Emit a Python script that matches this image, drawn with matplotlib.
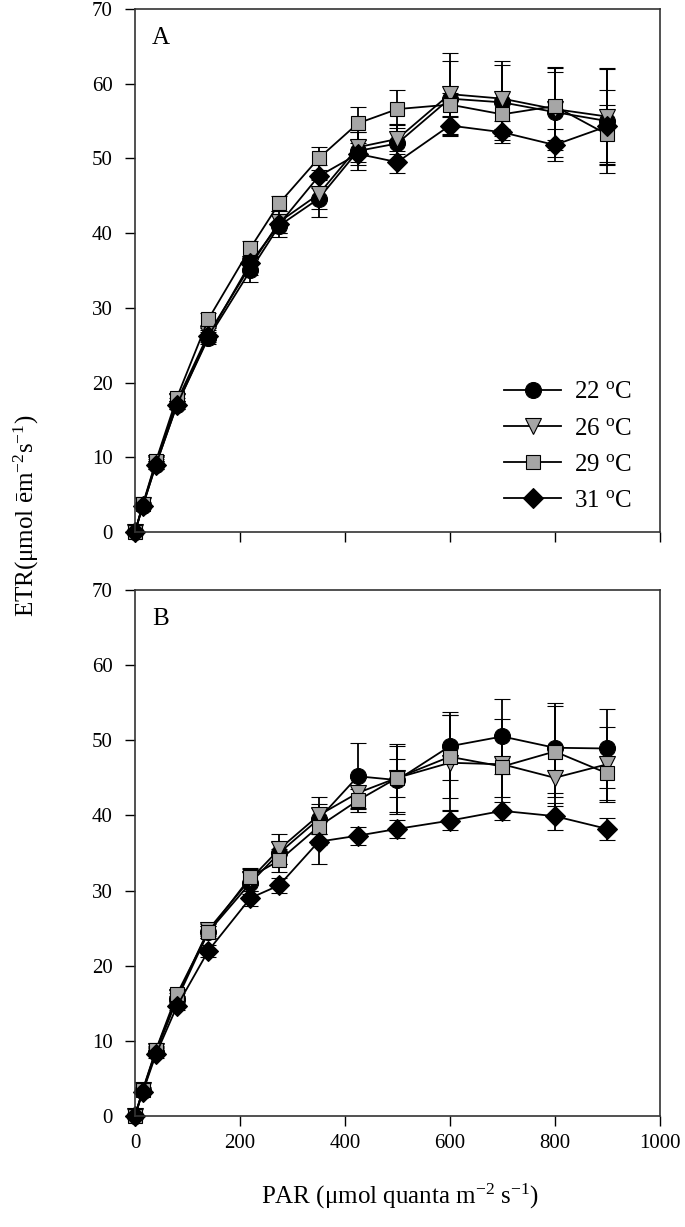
import matplotlib
matplotlib.use('Agg')
from matplotlib import pyplot as plt

#------------------------------------------------------------------
# Data.
#
par = [0, 15, 40, 80, 140, 220, 275, 350, 425, 500, 600, 700, 800, 900]
temps = ['22', '26', '29', '31']

# Panel A
a_22 = [0, 3.5, 9.0, 17.0, 26.0, 35.0, 41.0, 44.6, 51.0, 52.0, 58.0, 57.5, 56.2, 55.0]
a_26 = [0, 3.6, 9.3, 17.5, 26.5, 35.6, 41.5, 45.2, 51.5, 52.6, 58.6, 58.0, 56.6, 55.6]
a_29 = [0, 3.7, 9.5, 18.0, 28.5, 38.0, 44.0, 50.0, 54.7, 56.6, 57.2, 55.9, 57.0, 53.2]
a_31 = [0, 3.5, 9.0, 17.0, 26.2, 36.0, 41.2, 47.6, 50.6, 49.5, 54.4, 53.5, 51.8, 54.3]
a_22_err = [0, 0.3, 0.5, 0.5, 0.8, 1.5, 1.5, 2.5, 2.5, 2.5, 5.0, 5.0, 6.0, 7.0]
a_26_err = [0, 0.3, 0.5, 0.5, 0.8, 1.2, 1.5, 2.0, 2.0, 2.0, 5.5, 5.0, 5.5, 6.5]
a_29_err = [0, 0.3, 0.5, 0.5, 0.8, 1.0, 1.0, 1.5, 2.2, 2.5, 1.5, 2.0, 4.5, 4.0]
a_31_err = [0, 0.3, 0.5, 0.5, 0.8, 1.0, 1.2, 1.5, 1.5, 1.5, 1.2, 1.5, 2.2, 4.8]

# Panel B
b_22 = [0, 3.3, 8.5, 15.5, 24.5, 31.0, 35.0, 39.5, 45.2, 44.7, 49.2, 50.5, 49.0, 48.9]
b_26 = [0, 3.4, 8.7, 15.8, 24.8, 31.5, 35.5, 40.0, 43.0, 45.0, 47.0, 46.8, 45.0, 46.8]
b_29 = [0, 3.5, 8.8, 16.2, 24.5, 31.8, 34.0, 38.5, 42.0, 45.0, 47.8, 46.5, 48.5, 45.6]
b_31 = [0, 3.2, 8.2, 14.6, 22.0, 29.0, 30.7, 36.5, 37.3, 38.2, 39.3, 40.6, 39.9, 38.2]
b_22_err = [0, 0.3, 0.5, 0.5, 0.8, 1.5, 1.5, 2.0, 4.4, 4.5, 4.5, 5.0, 6.0, 5.2]
b_26_err = [0, 0.3, 0.5, 0.5, 0.8, 1.5, 2.0, 2.5, 2.0, 2.5, 6.3, 6.0, 3.8, 5.0]
b_29_err = [0, 0.3, 0.5, 0.5, 0.8, 1.0, 1.5, 2.5, 1.5, 4.5, 5.5, 4.0, 6.0, 3.5]
b_31_err = [0, 0.3, 0.5, 0.5, 0.8, 1.0, 1.0, 3.0, 1.2, 1.2, 1.3, 1.2, 1.8, 1.5]

#------------------------------------------------------------------
# Style.
#
plt.rcParams['font.family'] = ['Liberation Serif', 'DejaVu Serif']
plt.rcParams['mathtext.fontset'] = 'custom'
plt.rcParams['mathtext.rm'] = 'Liberation Serif'
plt.rcParams['mathtext.it'] = 'Liberation Serif:italic'

grey = '#a6a6a6'
styles = [
    dict(marker='o', mfc='black', ms=11.5),
    dict(marker='v', mfc=grey, ms=11.5),
    dict(marker='s', mfc=grey, ms=10),
    dict(marker='D', mfc='black', ms=10),
]

fig = plt.figure(figsize=(6.85, 12.27), dpi=100)
ax_a = fig.add_axes([0.197, 0.5664, 0.766, 0.4263])
ax_b = fig.add_axes([0.197, 0.0905, 0.766, 0.4287])

def draw_panel(ax, series, errs, letter, show_xlabels):
    handles = []
    for vals, err, st in zip(series, errs, styles):
        h = ax.errorbar(par, vals, yerr=err, color='black', lw=1.3,
                        elinewidth=1.3, capsize=6, capthick=1.3,
                        mec='black', mew=0.8, clip_on=False, **st)
        handles.append(h)
    ax.set_xlim(0, 1000)
    ax.set_ylim(0, 70)
    ax.set_xticks(range(0, 1001, 200))
    ax.set_yticks(range(0, 71, 10))
    ax.tick_params(direction='out', length=7, width=1, labelsize=15,
                   top=False, right=False)
    ax.tick_params(axis='y', pad=9)
    ax.tick_params(axis='x', pad=6)
    if not show_xlabels:
        ax.set_xticklabels([])
    for sp in ax.spines.values():
        sp.set_linewidth(1.2)
        sp.set_color('#333333')
    ax.text(0.032, 0.965, letter, transform=ax.transAxes, fontsize=18,
            va='top', ha='left')
    return handles

handles = draw_panel(ax_a, [a_22, a_26, a_29, a_31],
                     [a_22_err, a_26_err, a_29_err, a_31_err], 'A', False)
draw_panel(ax_b, [b_22, b_26, b_29, b_31],
           [b_22_err, b_26_err, b_29_err, b_31_err], 'B', True)

ax_a.legend(handles=[h[0] for h in handles],
            labels=[f'{t} $^{{\\rm o}}$C' for t in temps],
            loc='lower right', bbox_to_anchor=(0.99, -0.005),
            frameon=False, fontsize=18, handlelength=2.3,
            labelspacing=0.55, handletextpad=0.5)

fig.text(0.039, 0.58, 'ETR(μmol ēm$^{-2}$s$^{-1}$)', rotation=90,
         ha='center', va='center', fontsize=18)
fig.text(0.584, 0.025, 'PAR (μmol quanta m$^{-2}$ s$^{-1}$)',
         ha='center', va='center', fontsize=18)

fig.savefig('out.png', dpi=100)
